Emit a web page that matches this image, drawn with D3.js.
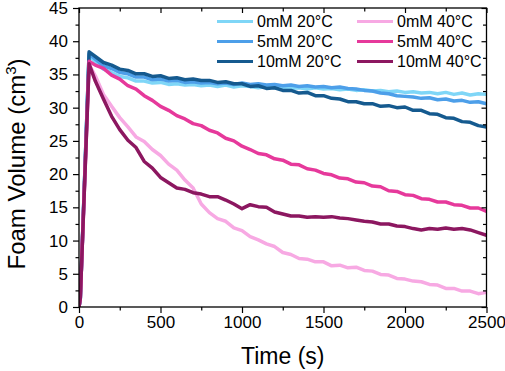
<!DOCTYPE html>
<html lang="en">
<head>
    <meta charset="UTF-8">
    <title>Foam Volume</title>
    <script src="https://d3js.org/d3.v7.min.js"></script>
    <style>
        body { margin: 0; background: #fff; }
        svg text { font-family: "Liberation Sans", Arial, sans-serif; fill: #000; }
    </style>
</head>
<body>
    <svg id="chart" width="505" height="371"></svg>
    <script>
        // sample times (s)
        const times = [0, 8, 62, 100, 150, 200, 250, 300, 350, 400, 450, 500, 550, 600, 650, 700, 750, 800, 850, 900,
            950, 1000, 1050, 1100, 1150, 1200, 1250, 1300, 1350, 1400, 1450, 1500, 1550, 1600, 1650, 1700, 1750, 1800,
            1850, 1900, 1950, 2000, 2050, 2100, 2150, 2200, 2250, 2300, 2350, 2400, 2450, 2500];

        const labels = ["0mM 20°C", "5mM 20°C", "10mM 20°C", "0mM 40°C", "5mM 40°C", "10mM 40°C"];
        const colors = ["#7fd6f7", "#4d9fe9", "#155a8f", "#f7a9e3", "#e6399b", "#8c1760"];

        const v0mM20 = [0, 1.2, 37.8, 36.9, 35.8, 35.3, 34.7, 34.5, 34.0, 34.0, 33.7, 33.8, 33.5, 33.6, 33.4, 33.5, 33.3, 33.4,
            33.2, 33.4, 33.1, 33.3, 33.2, 33.0, 33.2, 33.0, 33.1, 32.9, 33.0, 32.8, 33.0, 32.8, 32.9, 32.7, 32.8, 32.6,
            32.7, 32.5, 32.6, 32.4, 32.5, 32.3, 32.4, 32.2, 32.3, 32.1, 32.3, 32.0, 32.2, 31.9, 32.1, 32.0];
        const v5mM20 = [0, 1.2, 38.1, 37.3, 36.3, 35.9, 35.3, 35.1, 34.6, 34.6, 34.2, 34.3, 34.0, 34.1, 33.8, 33.9, 33.7, 33.8,
            33.6, 33.7, 33.5, 33.7, 33.5, 33.6, 33.4, 33.5, 33.3, 33.4, 33.2, 33.3, 33.1, 33.2, 33.0, 33.1, 32.9, 32.8,
            32.6, 32.5, 32.2, 32.1, 31.8, 31.7, 31.6, 31.4, 31.5, 31.2, 31.3, 31.0, 31.1, 30.8, 30.9, 30.6];
        const v10mM20 = [0, 1.2, 38.4, 37.7, 36.8, 36.4, 35.8, 35.6, 35.1, 35.1, 34.7, 34.8, 34.4, 34.5, 34.2, 34.3, 34.1, 34.1,
            33.8, 33.9, 33.6, 33.6, 33.2, 33.3, 32.9, 33.0, 32.6, 32.6, 32.2, 32.3, 31.8, 31.8, 31.4, 31.3, 30.9, 30.9,
            30.6, 30.6, 30.2, 30.3, 30.0, 30.1, 29.6, 29.6, 29.1, 29.0, 28.5, 28.4, 27.9, 27.8, 27.3, 27.1];
        const v0mM40 = [0, 1.3, 36.5, 34.8, 32.0, 30.2, 28.5, 27.1, 25.6, 24.9, 23.7, 22.8, 21.5, 20.6, 19.1, 17.9, 15.5, 14.2,
            13.3, 12.9, 11.9, 11.5, 10.6, 10.1, 9.5, 9.1, 8.2, 7.9, 7.3, 7.2, 6.8, 6.8, 6.2, 6.3, 5.9, 6.0,
            5.5, 5.4, 4.9, 4.8, 4.3, 4.2, 3.9, 3.8, 3.4, 3.3, 2.8, 2.8, 2.4, 2.4, 2.0, 2.2];
        const v5mM40 = [0, 1.3, 37.0, 36.4, 35.9, 34.9, 34.3, 33.3, 32.8, 31.8, 31.1, 30.2, 29.6, 28.8, 28.3, 27.6, 27.3, 26.6,
            26.2, 25.4, 25.0, 24.2, 23.7, 23.1, 22.9, 22.3, 22.1, 21.5, 21.4, 20.8, 20.6, 20.1, 19.9, 19.4, 19.3, 18.8,
            18.7, 18.2, 18.1, 17.5, 17.4, 16.9, 16.8, 16.3, 16.2, 15.8, 15.8, 15.4, 15.3, 14.9, 14.9, 14.4];
        const v10mM40 = [0, 1.3, 36.6, 34.0, 31.3, 28.7, 26.7, 25.1, 24.0, 21.9, 20.9, 19.5, 18.7, 17.9, 17.7, 17.2, 17.0, 16.6,
            16.6, 16.1, 15.5, 14.8, 15.4, 15.1, 15.0, 14.3, 14.0, 13.7, 13.7, 13.5, 13.6, 13.5, 13.6, 13.4, 13.3, 13.1,
            12.9, 12.8, 12.5, 12.5, 12.2, 12.1, 11.8, 11.6, 11.8, 11.7, 11.9, 11.7, 11.8, 11.6, 11.2, 10.8];

        const allValues = [v0mM20, v5mM20, v10mM20, v0mM40, v5mM40, v10mM40];
        const xTicks = [0, 500, 1000, 1500, 2000, 2500];
        const xMinor = [250, 750, 1250, 1750, 2250];
        const yTicks = [0, 5, 10, 15, 20, 25, 30, 35, 40, 45];
        const yMinor = [2.5, 7.5, 12.5, 17.5, 22.5, 27.5, 32.5, 37.5, 42.5];

        const svg = d3.select("#chart");
        const margin = { top: 8, right: 18.5, bottom: 64, left: 79 };
        const width = 505 - margin.left - margin.right;
        const height = 371 - margin.top - margin.bottom;
        const g = svg.append("g").attr("transform", `translate(${margin.left},${margin.top})`);

        const x = d3.scaleLinear().domain([0, 2500]).range([0, width]);
        const y = d3.scaleLinear().domain([0, 45]).range([height, 0]);

        g.append("defs").append("clipPath").attr("id", "clip")
            .append("rect").attr("width", width).attr("height", height);

        // data lines
        const line = d3.line().x((d, i) => x(times[i])).y(d => y(d));
        g.append("g").attr("clip-path", "url(#clip)")
            .selectAll("path")
            .data(allValues)
            .enter().append("path")
            .attr("d", line)
            .attr("fill", "none")
            .attr("stroke", (d, i) => colors[i])
            .attr("stroke-width", 3.5)
            .attr("stroke-linejoin", "round");

        function styleAxis(sel) {
            sel.select(".domain").remove();
            sel.selectAll("line").attr("stroke", "#000").attr("stroke-width", 1.2);
            sel.selectAll("text").style("font-size", "17px").style("font-family", "'Liberation Sans', Arial, sans-serif");
        }

        // bottom / left (outside ticks with labels)
        g.append("g").attr("transform", `translate(0,${height})`)
            .call(d3.axisBottom(x).tickValues(xTicks).tickFormat(d3.format("d")).tickSize(6).tickPadding(3)).call(styleAxis);
        g.append("g").attr("transform", `translate(0,${height})`)
            .call(d3.axisBottom(x).tickValues(xMinor).tickSize(3.5).tickFormat("")).call(styleAxis);
        g.append("g")
            .call(d3.axisLeft(y).tickValues(yTicks).tickFormat(d3.format("d")).tickSize(6).tickPadding(5)).call(styleAxis);
        g.append("g")
            .call(d3.axisLeft(y).tickValues(yMinor).tickSize(3.5).tickFormat("")).call(styleAxis);

        // top / right (inside ticks, no labels)
        g.append("g").call(d3.axisTop(x).tickValues(xTicks).tickSize(-5).tickFormat("")).call(styleAxis);
        g.append("g").call(d3.axisTop(x).tickValues(xMinor).tickSize(-3.5).tickFormat("")).call(styleAxis);
        g.append("g").attr("transform", `translate(${width},0)`)
            .call(d3.axisRight(y).tickValues(yTicks).tickSize(-5).tickFormat("")).call(styleAxis);
        g.append("g").attr("transform", `translate(${width},0)`)
            .call(d3.axisRight(y).tickValues(yMinor).tickSize(-3.5).tickFormat("")).call(styleAxis);

        // frame
        g.append("rect").attr("width", width).attr("height", height)
            .attr("fill", "none").attr("stroke", "#000").attr("stroke-width", 1.3);

        // legend
        const legend = svg.append("g");
        labels.forEach((lab, i) => {
            const col = Math.floor(i / 3), row = i % 3;
            const lx = col === 0 ? 217 : 357;
            const ly = 21.5 + row * 20;
            legend.append("line")
                .attr("x1", lx).attr("x2", lx + 36).attr("y1", ly).attr("y2", ly)
                .attr("stroke", colors[i]).attr("stroke-width", 3);
            legend.append("text")
                .attr("x", lx + 40).attr("y", ly).attr("dy", "0.36em")
                .style("font-size", "16px")
                .text(lab);
        });

        // axis titles
        svg.append("text")
            .attr("x", margin.left + width / 2).attr("y", 364)
            .attr("text-anchor", "middle")
            .style("font-size", "23px")
            .text("Time (s)");

        const yTitle = svg.append("text")
            .attr("transform", "translate(25,164) rotate(-90)")
            .attr("text-anchor", "middle")
            .style("font-size", "24px");
        yTitle.append("tspan").text("Foam Volume (cm");
        yTitle.append("tspan").attr("dy", -9).style("font-size", "15px").text("3");
        yTitle.append("tspan").attr("dy", 9).text(")");
    </script>
</body>
</html>
